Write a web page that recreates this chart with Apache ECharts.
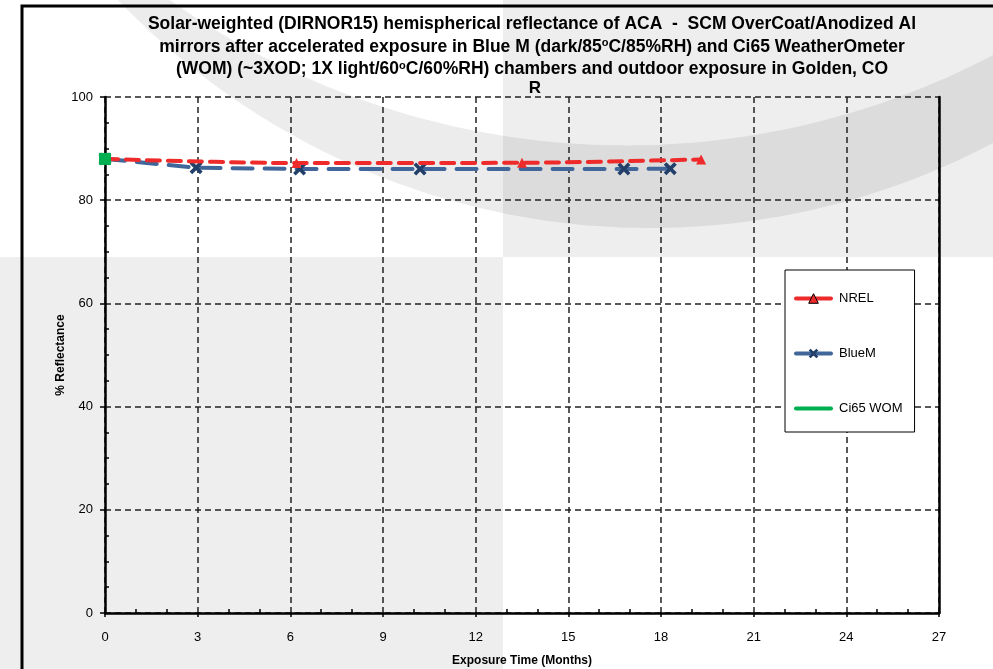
<!DOCTYPE html>
<html>
<head>
<meta charset="utf-8">
<script src="https://cdn.jsdelivr.net/npm/echarts@6/dist/echarts.min.js"></script>
<style>
  html, body { margin: 0; padding: 0; background: #fff; }
  #chart { width: 993px; height: 669px; }
</style>
</head>
<body>
<div id="chart"></div>
<script>
// data: [months, % reflectance]
const nrelData = [[0, 88.0], [6.2, 87.2], [13.5, 87.25], [19.3, 87.9]]
const blueMData = [[0, 88.0], [2.95, 86.3], [6.3, 86.05], [10.2, 86.05], [16.8, 86.05], [18.3, 86.1]]
const womData = [[0, 88.0]]
const seriesNames = ['NREL', 'BlueM', 'Ci65 WOM']
const xRange = { min: 0, max: 27, step: 3 }
const yRange = { min: 0, max: 100, step: 20 }

const titleLines = [
  'Solar-weighted (DIRNOR15) hemispherical reflectance of ACA  -  SCM OverCoat/Anodized Al',
  'mirrors after accelerated exposure in Blue M (dark/85{sup|o}C/85%RH) and Ci65 WeatherOmeter',
  '(WOM) (~3XOD; 1X light/60{sup|o}C/60%RH) chambers and outdoor exposure in Golden, CO',
]

const FONT = 'Liberation Sans, Arial, sans-serif'
const xMarker = 'path://M2,0 L5,3 L8,0 L10,2 L7,5 L10,8 L8,10 L5,7 L2,10 L0,8 L3,5 L0,2 Z'

// watermark arc band: outer and inner edges are two different circles
const bandOuter = { cx: 650, cy: -506.5, r: 734.5 }
const bandInner = { cx: 626.4, cy: -643.9, r: 789.3 }

const lowerArcY = (c, x) => c.cy + Math.sqrt(Math.max(0, c.r * c.r - (x - c.cx) * (x - c.cx)))

const bandPoints = () => {
  const pts = []
  for (let x = 100; x <= 1100; x += 8) pts.push([x, lowerArcY(bandOuter, x)])
  for (let x = 1100; x >= 100; x -= 8) pts.push([x, lowerArcY(bandInner, x)])
  return pts
}

const chart = echarts.init(document.getElementById('chart'), null, { renderer: 'canvas' })

const gridLine = { show: true, lineStyle: { color: '#222', width: 1.5, type: [6, 4] } }

const option = {
  animation: false,
  backgroundColor: '#fff',
  grid: { left: 105, right: 54, top: 97, bottom: 56, containLabel: false, outerBoundsMode: 'none' },
  graphic: [
    { type: 'rect', z: -10, silent: true, shape: { x: 0, y: 257, width: 503, height: 412 }, style: { fill: 'rgba(0,0,0,0.065)' } },
    { type: 'rect', z: -10, silent: true, shape: { x: 503, y: 0, width: 490, height: 257 }, style: { fill: 'rgba(0,0,0,0.065)' } },
    { type: 'polygon', z: -9, silent: true, shape: { points: bandPoints() }, style: { fill: 'rgba(0,0,0,0.075)' } },
    // outer frame
    { type: 'rect', z: -5, silent: true, shape: { x: 22, y: 6, width: 1200, height: 900 }, style: { fill: 'none', stroke: '#000', lineWidth: 3 } },
    {
      type: 'text', x: 532, y: 13, silent: true,
      style: {
        text: titleLines.join('\n'),
        align: 'center', verticalAlign: 'top',
        font: 'bold 17.5px ' + FONT, fill: '#000', lineHeight: 22.5,
        rich: {
          sup: { fontSize: 11, fontWeight: 'bold', fontFamily: FONT, verticalAlign: 'top', padding: [2, 0, 0, 0] },
        },
      },
    },
    { type: 'text', x: 535, y: 88, silent: true, style: { text: 'R', align: 'center', verticalAlign: 'middle', font: 'bold 17px ' + FONT, fill: '#000' } },
  ],
  legend: {
    orient: 'vertical',
    left: 785,
    top: 270,
    padding: [22, 12, 17, 9],
    itemWidth: 35,
    itemHeight: 12,
    itemGap: 42,
    backgroundColor: '#fff',
    borderColor: '#000',
    borderWidth: 1,
    lineStyle: { type: 'solid', width: 4, cap: 'round' },
    textStyle: { fontFamily: FONT, fontSize: 13, color: '#000', padding: [0, 0, 0, 3] },
    data: [
      { name: seriesNames[0], itemStyle: { borderColor: '#000', borderWidth: 1 } },
      { name: seriesNames[1] },
      { name: seriesNames[2], itemStyle: { opacity: 0 } },
    ],
  },
  xAxis: [
    {
      type: 'value', min: xRange.min, max: xRange.max, interval: xRange.step, position: 'bottom',
      name: 'Exposure Time (Months)', nameLocation: 'middle', nameGap: 42, nameMoveOverlap: false,
      nameTextStyle: { fontFamily: FONT, fontSize: 12, fontWeight: 'bold', color: '#000' },
      axisLine: { show: true, onZero: false, lineStyle: { color: '#000', width: 2.5 } },
      axisTick: { show: true, inside: false, length: 4, lineStyle: { color: '#000', width: 1.5 } },
      axisLabel: { margin: 18, fontFamily: FONT, fontSize: 13, color: '#000' },
      splitLine: gridLine,
    },
    {
      type: 'value', min: xRange.min, max: xRange.max, interval: xRange.step, position: 'bottom',
      axisLine: { show: false }, axisTick: { show: false, inside: true }, axisLabel: { show: false },
      splitLine: { show: false },
      minorTick: { show: true, splitNumber: 3, length: 4, lineStyle: { color: '#000', width: 1.5 } },
    },
  ],
  yAxis: [
    {
      type: 'value', min: yRange.min, max: yRange.max, interval: yRange.step, position: 'left',
      name: '% Reflectance', nameLocation: 'middle', nameGap: 38, nameMoveOverlap: false,
      nameTextStyle: { fontFamily: FONT, fontSize: 12, fontWeight: 'bold', color: '#000' },
      axisLine: { show: true, onZero: false, lineStyle: { color: '#000', width: 2.5 } },
      axisTick: { show: true, inside: false, length: 5, lineStyle: { color: '#000', width: 1.5 } },
      axisLabel: { margin: 12, fontFamily: FONT, fontSize: 13, color: '#000' },
      splitLine: gridLine,
    },
    {
      type: 'value', min: yRange.min, max: yRange.max, interval: yRange.step, position: 'left',
      axisLine: { show: false }, axisTick: { show: false, inside: true }, axisLabel: { show: false },
      splitLine: { show: false },
      minorTick: { show: true, splitNumber: 4, length: 4, lineStyle: { color: '#000', width: 1.5 } },
    },
    {
      type: 'value', min: yRange.min, max: yRange.max, interval: yRange.step, position: 'right',
      axisLine: { show: true, onZero: false, lineStyle: { color: '#000', width: 2.5 } },
      axisTick: { show: false }, axisLabel: { show: false }, splitLine: { show: false },
    },
  ],
  series: [
    {
      name: seriesNames[0], type: 'line', data: nrelData, smooth: 0.3,
      symbol: 'triangle', symbolSize: 10, z: 3,
      lineStyle: { color: '#ee2a2a', width: 4, type: [13, 8], cap: 'round' },
      itemStyle: { color: '#ee2a2a' },
    },
    {
      name: seriesNames[1], type: 'line', data: blueMData,
      symbol: xMarker, symbolSize: 13, z: 2,
      lineStyle: { color: '#41679a', width: 4, type: [20, 12], cap: 'round' },
      itemStyle: { color: '#223f69' },
    },
    {
      name: seriesNames[2], type: 'line', data: womData,
      symbol: 'rect', symbolSize: 12, z: 4,
      lineStyle: { color: '#00b050', width: 4 },
      itemStyle: { color: '#00b050' },
    },
  ],
}

chart.setOption(option)
</script>
</body>
</html>
